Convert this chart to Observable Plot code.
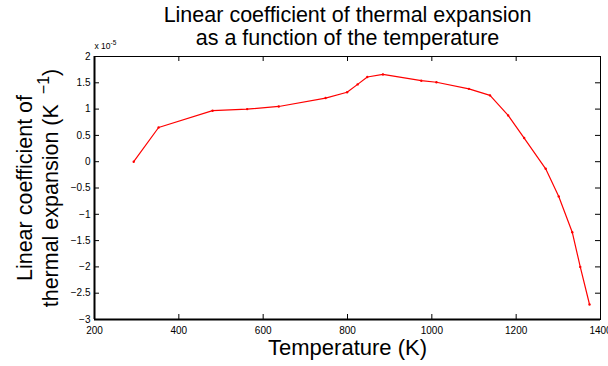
<!DOCTYPE html>
<html><head><meta charset="utf-8">
<script src="https://cdn.jsdelivr.net/npm/d3@7"></script>
<script src="https://cdn.jsdelivr.net/npm/@observablehq/plot@0.6"></script>
<style>body{margin:0;background:#fff} svg{display:block}</style>
</head><body><div id="chart"></div>
<script>
// Temperature (K)
const temperature = [293, 352, 480, 562, 637, 748, 799, 824, 847, 884, 975, 1011, 1088, 1138, 1181, 1219, 1270, 1301, 1333, 1352, 1374];
// Linear coefficient of thermal expansion (×10^-5 K^-1)
const alpha = [0, 0.65, 0.97, 1.0, 1.05, 1.21, 1.32, 1.47, 1.61, 1.66, 1.54, 1.51, 1.385, 1.26, 0.88, 0.45, -0.135, -0.66, -1.34, -2.0, -2.715];
const xTicks = [200, 400, 600, 800, 1000, 1200, 1400];
const yTicks = [-3, -2.5, -2, -1.5, -1, -0.5, 0, 0.5, 1, 1.5, 2];
const titleLines = ["Linear coefficient of thermal expansion", "as a function of the temperature"];
const xLabel = "Temperature (K)";
const yLabelLine1 = "Linear coefficient of";
const yLabelLine2 = "thermal expansion (K";
const yLabelExponent = "\u22121";
const multiplierBase = "x 10";
const multiplierExponent = "-5";

const data = temperature.map((t, i) => ({t, a: alpha[i]}));
const W = 608, H = 366, mL = 94, mR = 8, mT = 56, mB = 47;
const fw = W - mL - mR, fh = H - mT - mB, tl = 5;
const font = "'Liberation Sans', Arial, Helvetica, sans-serif";
const fmtY = d => d === 0 ? "0" : (d < 0 ? "\u2212" : "") + Math.abs(d);

const plot = Plot.plot({
  width: W, height: H,
  marginLeft: mL, marginRight: mR, marginTop: mT, marginBottom: mB,
  style: {fontFamily: font, background: "white", overflow: "visible", color: "black"},
  x: {domain: [200, 1400]},
  y: {domain: [-3, 2]},
  marks: [
    Plot.tickX(xTicks, {x: d => d, insetTop: fh - tl, stroke: "black"}),
    Plot.tickX(xTicks, {x: d => d, insetBottom: fh - tl, stroke: "black"}),
    Plot.tickY(yTicks, {y: d => d, insetRight: fw - tl, stroke: "black"}),
    Plot.tickY(yTicks, {y: d => d, insetLeft: fw - tl, stroke: "black"}),
    Plot.axisX(xTicks, {anchor: "bottom", tickSize: 0, tickPadding: 7, tickFormat: d3.format("d"), fontSize: 10, label: null}),
    Plot.axisY(yTicks, {anchor: "left", tickSize: 0, tickPadding: 4, tickFormat: fmtY, fontSize: 10, label: null}),
    Plot.frame({stroke: "black", strokeWidth: 1}),
    Plot.ruleX([200], {stroke: "black", strokeWidth: 2}),
    Plot.ruleY([-3], {stroke: "black", strokeWidth: 2}),
    Plot.line(data, {x: "t", y: "a", stroke: "red", strokeWidth: 1.2}),
    Plot.dot(data, {x: "t", y: "a", r: 1.2, fill: "red"}),
    Plot.text([titleLines[0]], {frameAnchor: "top", lineAnchor: "bottom", dy: -35, fontSize: 21.5}),
    Plot.text([titleLines[1]], {frameAnchor: "top", lineAnchor: "bottom", dy: -12, fontSize: 21.5}),
    Plot.text([xLabel], {frameAnchor: "bottom", lineAnchor: "bottom", dy: 35.5, fontSize: 22}),
    Plot.text([yLabelLine1], {frameAnchor: "left", textAnchor: "middle", rotate: -90, lineAnchor: "bottom", dx: -63, fontSize: 21.5}),
    Plot.text([yLabelLine2], {frameAnchor: "left", textAnchor: "middle", rotate: -90, lineAnchor: "bottom", dx: -37, fontSize: 21.5}),
    Plot.text([multiplierBase], {frameAnchor: "top-left", textAnchor: "start", lineAnchor: "bottom", dy: -8, fontSize: 8.5})
  ]
});

// superscripts
d3.select(plot).selectAll("text").each(function() {
  const el = d3.select(this);
  const txt = this.textContent;
  if (txt === yLabelLine2) {
    el.text(null);
    el.append("tspan").text(yLabelLine2);
    el.append("tspan").attr("dx", 10).attr("dy", -9).attr("font-size", 16).text(yLabelExponent);
    el.append("tspan").attr("dy", 9).text(")");
  } else if (txt === multiplierBase) {
    el.text(null);
    el.append("tspan").text(multiplierBase);
    el.append("tspan").attr("dy", -4).attr("font-size", 6.5).text(multiplierExponent);
  }
});

document.getElementById("chart").append(plot);
</script>
</body></html>
